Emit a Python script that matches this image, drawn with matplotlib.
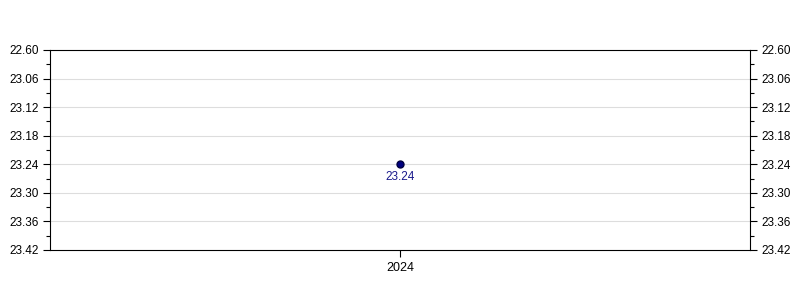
import matplotlib
matplotlib.use("Agg")
import matplotlib.pyplot as plt
from matplotlib.ticker import FixedLocator, FixedFormatter

years = ["2024"]
values = [23.24]
ytick_values = [23.00, 23.06, 23.12, 23.18, 23.24, 23.30, 23.36, 23.42]
ytick_labels = ["22.60", "23.06", "23.12", "23.18", "23.24", "23.30", "23.36", "23.42"]
yminor_values = [23.03, 23.09, 23.15, 23.21, 23.27, 23.33, 23.39]

plt.rcParams['font.family'] = ['Liberation Sans', 'DejaVu Sans']

fig = plt.figure(figsize=(8, 3), dpi=100)
ax = fig.add_axes([50/800, 50/300, 700/800, 200/300])

xs = list(range(len(years)))
ax.plot(xs, values, linestyle='none', marker='o', markersize=5,
        markerfacecolor='#000080', markeredgecolor='#000040', zorder=3)
for x, v in zip(xs, values):
    ax.annotate(f"{v:.2f}", (x, v), xytext=(0, -4.5), textcoords='offset points',
                ha='center', va='top', fontsize=8.5, color='#1a1a8c')

ax.set_xlim(-0.5, len(years) - 0.5)
ax.set_ylim(ytick_values[-1], ytick_values[0])
ax.set_xticks(xs)
ax.set_xticklabels(years, fontsize=9)

ax.yaxis.set_major_locator(FixedLocator(ytick_values))
ax.yaxis.set_major_formatter(FixedFormatter(ytick_labels))
ax.yaxis.set_minor_locator(FixedLocator(yminor_values))

ax.tick_params(axis='y', which='both', left=True, right=True, labelleft=True,
               labelright=True, direction='out', labelsize=8.5, colors='black')
ax.tick_params(axis='y', which='major', length=5, width=0.8, pad=3)
ax.tick_params(axis='y', which='minor', length=3, width=0.8)
ax.tick_params(axis='x', which='major', length=5, width=0.8, direction='out')

for v in ytick_values[1:-1]:
    ax.axhline(v, color='#dddddd', linewidth=0.8, zorder=1)

for s in ax.spines.values():
    s.set_linewidth(0.8)
    s.set_color('black')

fig.savefig("out.png", dpi=100)
